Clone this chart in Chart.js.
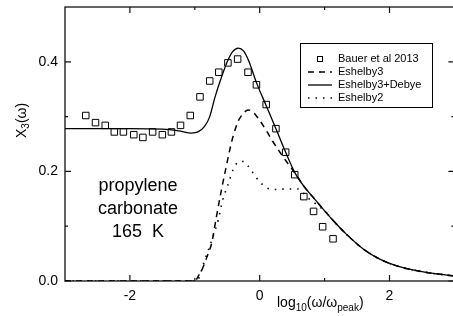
<!DOCTYPE html>
<html>
<head>
<meta charset="utf-8">
<script src="https://cdn.jsdelivr.net/npm/chart.js@4"></script>
<style>
html, body { margin: 0; padding: 0; background: #fff; overflow: hidden; }
canvas { display: block; }
</style>
</head>
<body>
<canvas id="my-canvas" width="460" height="316"></canvas>
<script>
const xTicks = [-2, 0, 2]
const xMinorTicks = [-1, 1]
const yTicks = [0.0, 0.2, 0.4]
const yMinorTicks = [0.1, 0.3]

// measured points
const bauerX = [-2.68, -2.53, -2.38, -2.24, -2.10, -1.94, -1.80, -1.65, -1.50, -1.36, -1.22, -1.07, -0.92, -0.77, -0.63, -0.49, -0.34, -0.18, -0.05, 0.10, 0.25, 0.40, 0.54, 0.68, 0.83, 0.97, 1.13]
const bauerY = [0.302, 0.289, 0.284, 0.272, 0.272, 0.267, 0.262, 0.272, 0.267, 0.272, 0.284, 0.302, 0.336, 0.365, 0.381, 0.398, 0.405, 0.381, 0.358, 0.322, 0.278, 0.235, 0.194, 0.154, 0.127, 0.099, 0.077]

// Eshelby3 + Debye (solid)
const debyeX = [-3.0, -2.0, -1.5, -1.25, -1.05, -0.95, -0.85, -0.77, -0.69, -0.6, -0.5, -0.42, -0.33, -0.25, -0.17, -0.05, 0.1, 0.25, 0.4, 0.55, 0.7, 0.85, 1.0, 1.15, 1.33, 1.6, 1.85, 2.1, 2.5, 3.0]
const debyeY = [0.278, 0.278, 0.277, 0.274, 0.270, 0.272, 0.282, 0.300, 0.335, 0.368, 0.400, 0.418, 0.425, 0.420, 0.402, 0.362, 0.320, 0.278, 0.235, 0.196, 0.170, 0.149, 0.128, 0.108, 0.086, 0.058, 0.040, 0.028, 0.017, 0.009]

// Eshelby3 (dashed)
const esh3X = [-3.0, -1.0, -0.95, -0.87, -0.80, -0.74, -0.67, -0.59, -0.51, -0.46, -0.41, -0.33, -0.25, -0.18, -0.1, 0.0, 0.1, 0.2, 0.3, 0.4, 0.5, 0.6, 0.7, 0.85, 1.0, 1.15, 1.33, 1.6, 1.85, 2.1, 2.5, 3.0]
const esh3Y = [0, 0, 0.008, 0.026, 0.048, 0.069, 0.115, 0.166, 0.212, 0.240, 0.264, 0.292, 0.306, 0.312, 0.308, 0.293, 0.275, 0.255, 0.237, 0.220, 0.204, 0.187, 0.170, 0.149, 0.128, 0.108, 0.086, 0.058, 0.040, 0.028, 0.017, 0.009]

// Eshelby2 (dotted)
const esh2X = [-3.0, -0.97, -0.9, -0.87, -0.79, -0.72, -0.64, -0.57, -0.49, -0.41, -0.31, -0.25, -0.18, -0.1, 0.0, 0.13, 0.26, 0.41, 0.59, 0.66, 0.74, 0.85, 1.0, 1.15, 1.33, 1.6, 1.85, 2.1, 2.5, 3.0]
const esh2Y = [0, 0, 0.018, 0.030, 0.057, 0.081, 0.111, 0.148, 0.175, 0.203, 0.218, 0.218, 0.210, 0.197, 0.181, 0.169, 0.167, 0.168, 0.168, 0.162, 0.152, 0.142, 0.128, 0.108, 0.086, 0.058, 0.040, 0.028, 0.017, 0.009]

const seriesNames = ['Bauer et al 2013', 'Eshelby3', 'Eshelby3+Debye', 'Eshelby2']
const noteLines = ['propylene', 'carbonate', '165  K']

const FONT = "'Liberation Sans', Arial, Helvetica, sans-serif"

const pts = (xs, ys) => xs.map((x, i) => ({ x: x, y: ys[i] }))

// frame + inward ticks
const framePlugin = {
    id: 'frame',
    beforeDatasetsDraw(chart) {
        const ctx = chart.ctx
        const a = chart.chartArea
        const sx = chart.scales.x, sy = chart.scales.y
        ctx.save()
        ctx.strokeStyle = '#111'
        ctx.lineWidth = 1.3
        ctx.strokeRect(a.left, a.top, a.right - a.left, a.bottom - a.top)
        ctx.lineWidth = 1.2
        ctx.beginPath()
        const xt = (v, len) => {
            const p = sx.getPixelForValue(v)
            ctx.moveTo(p, a.bottom); ctx.lineTo(p, a.bottom - len)
            ctx.moveTo(p, a.top); ctx.lineTo(p, a.top + len)
        }
        const yt = (v, len) => {
            const p = sy.getPixelForValue(v)
            ctx.moveTo(a.left, p); ctx.lineTo(a.left + len, p)
            ctx.moveTo(a.right, p); ctx.lineTo(a.right - len, p)
        }
        xTicks.forEach(v => xt(v, 6))
        xMinorTicks.forEach(v => xt(v, 3))
        yTicks.forEach(v => yt(v, 6))
        yMinorTicks.forEach(v => yt(v, 3))
        ctx.stroke()
        ctx.restore()
    },
    afterDraw(chart) {
        const ctx = chart.ctx
        ctx.save()
        ctx.fillStyle = '#000'

        // legend box
        ctx.strokeStyle = '#000'
        ctx.lineWidth = 1
        ctx.strokeRect(300.5, 43.5, 132, 64)
        ctx.font = '11px ' + FONT
        ctx.textBaseline = 'middle'
        ctx.textAlign = 'left'
        const rows = [59, 72, 85, 98]
        chart.data.datasets.forEach((ds, i) => {
            const y = rows[i]
            if (ds.showLine) {
                ctx.save()
                ctx.strokeStyle = ds.borderColor
                ctx.lineWidth = ds.borderWidth
                ctx.setLineDash(ds.borderDash || [])
                ctx.beginPath()
                ctx.moveTo(308, y); ctx.lineTo(332, y)
                ctx.stroke()
                ctx.restore()
            } else {
                ctx.strokeRect(317.5, y - 2.5, 5, 5)
            }
            ctx.fillText(ds.label, 338, y)
        })

        // annotation
        ctx.font = '18px ' + FONT
        ctx.textAlign = 'center'
        ctx.textBaseline = 'alphabetic'
        noteLines.forEach((t, i) => ctx.fillText(t, 138, 190.5 + i * 23))

        // x title
        ctx.textAlign = 'left'
        let x = 277
        const base = 307
        const part = (t, size, dy) => {
            ctx.font = size + 'px ' + FONT
            ctx.fillText(t, x, base + dy)
            x += ctx.measureText(t).width
        }
        part('log', 14, 0)
        part('10', 10, 4)
        part('(\u03c9/\u03c9', 14, 0)
        part('peak', 10, 4)
        part(')', 14, 0)

        // y title
        ctx.translate(26, 138)
        ctx.rotate(-Math.PI / 2)
        let w = 0
        const rpart = (t, size, dy) => {
            ctx.font = size + 'px ' + FONT
            ctx.fillText(t, w, dy)
            w += ctx.measureText(t).width
        }
        rpart('X', 14, 0)
        rpart('3', 10, 3)
        rpart('(\u03c9)', 14, 0)
        ctx.restore()
    }
}

window.onload = () => {

    const canvas = document.querySelector('#my-canvas')
    const ctx = canvas.getContext('2d')

    const tickFont = { family: FONT, size: 14 }

    new Chart(ctx, {
        type: 'scatter',
        data: {
            datasets: [
                {
                    label: seriesNames[0],
                    data: pts(bauerX, bauerY),
                    showLine: false,
                    pointStyle: 'rect',
                    pointRadius: 4.6,
                    pointBorderWidth: 1,
                    borderColor: '#000',
                    backgroundColor: 'rgba(0,0,0,0)'
                },
                {
                    label: seriesNames[1],
                    data: pts(esh3X, esh3Y),
                    showLine: true,
                    borderColor: '#000',
                    borderWidth: 1.5,
                    borderDash: [6, 5],
                    pointRadius: 0,
                    cubicInterpolationMode: 'monotone'
                },
                {
                    label: seriesNames[2],
                    data: pts(debyeX, debyeY),
                    showLine: true,
                    borderColor: '#000',
                    borderWidth: 1.3,
                    pointRadius: 0,
                    cubicInterpolationMode: 'monotone'
                },
                {
                    label: seriesNames[3],
                    data: pts(esh2X, esh2Y),
                    showLine: true,
                    borderColor: '#000',
                    borderWidth: 1.6,
                    borderDash: [1.5, 6],
                    pointRadius: 0,
                    cubicInterpolationMode: 'monotone'
                }
            ]
        },
        options: {
            responsive: false,
            animation: false,
            layout: { padding: { left: 0, top: 7, right: 5, bottom: 0 } },
            plugins: {
                legend: { display: false },
                tooltip: { enabled: false }
            },
            scales: {
                x: {
                    type: 'linear',
                    min: -3,
                    max: 3,
                    grid: { display: false, drawTicks: false },
                    border: { display: false },
                    ticks: { padding: 7, font: tickFont, color: '#000', callback: v => String(v) },
                    afterBuildTicks: s => { s.ticks = xTicks.map(v => ({ value: v })) },
                    afterFit: s => { s.height = 35; s.paddingLeft = 0; s.paddingRight = 0 }
                },
                y: {
                    type: 'linear',
                    min: 0,
                    max: 0.5,
                    grid: { display: false, drawTicks: false },
                    border: { display: false },
                    ticks: { padding: 7, font: tickFont, color: '#000', callback: v => v.toFixed(1) },
                    afterBuildTicks: s => { s.ticks = yTicks.map(v => ({ value: v })) },
                    afterFit: s => { s.width = 65; s.paddingTop = 0; s.paddingBottom = 0 }
                }
            }
        },
        plugins: [framePlugin]
    })
}
</script>
</body>
</html>
